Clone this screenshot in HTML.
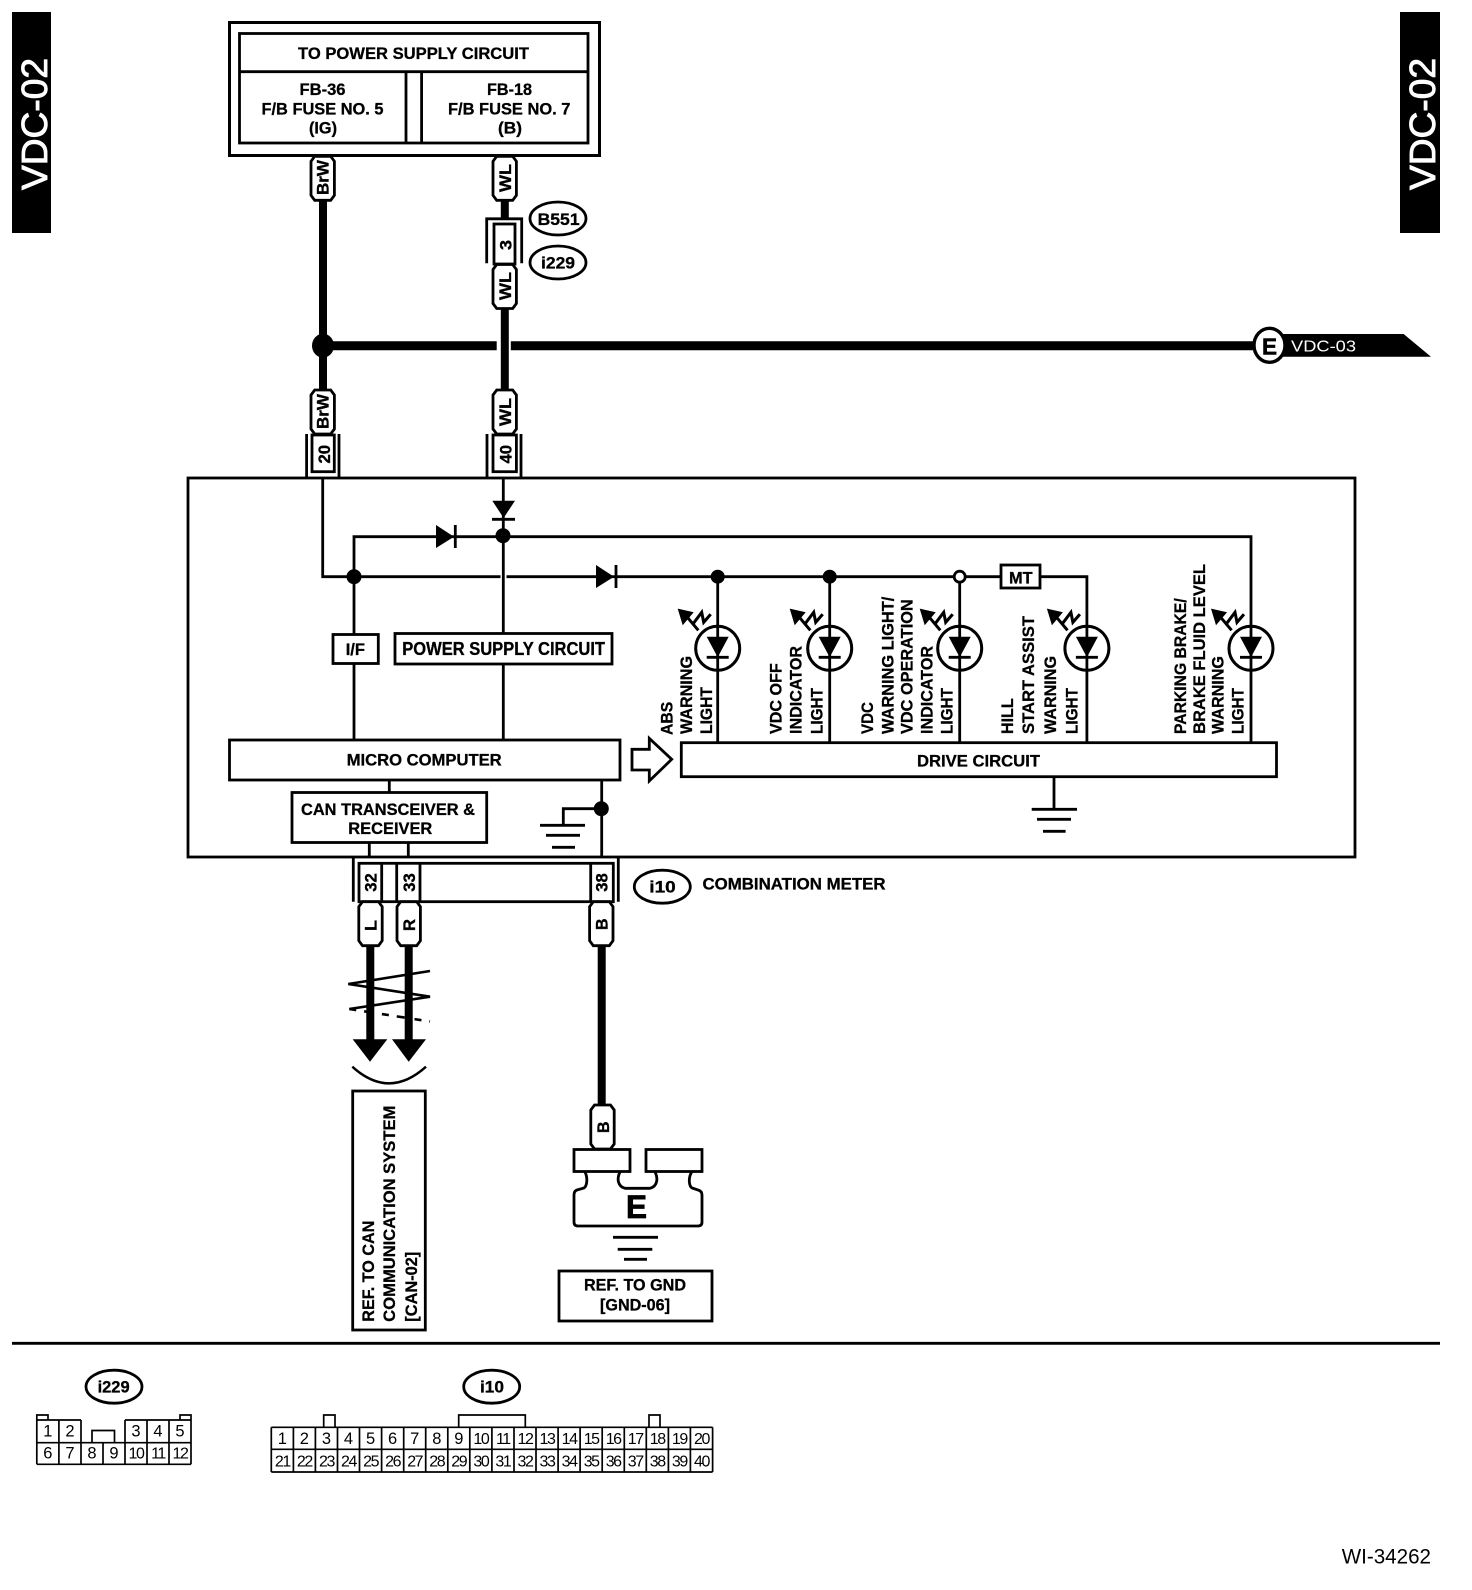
<!DOCTYPE html>
<html><head><meta charset="utf-8"><title>VDC-02 wiring diagram</title>
<style>
html,body{margin:0;padding:0;background:#fff}
svg{display:block}
text{font-family:"Liberation Sans",sans-serif;fill:#000}
.b{font-weight:bold;font-size:17px;stroke:#000;stroke-width:.3}
.w{fill:#fff;stroke:#fff;stroke-width:.9}
.n{font-size:16.5px;text-anchor:middle}
.d{font-size:16px;text-anchor:middle;letter-spacing:-1.4px}
.s{fill:none;stroke:#000;stroke-width:2.8}
.f{fill:#fff;stroke:#000;stroke-width:2.8}
.t{stroke:#000;stroke-width:8;fill:none}
.c{font-size:16.5px;font-weight:bold;stroke:#000;stroke-width:.35}
.g{stroke:#000;stroke-width:1.7;fill:none}
</style></head><body>
<svg width="1472" height="1590" viewBox="0 0 1472 1590" xmlns="http://www.w3.org/2000/svg">
<defs>
<path id="tag" d="M-8,-22H8L11.7,-17V17L8,22H-8L-11.7,17V-17Z" fill="#fff" stroke="#000" stroke-width="2.8"/>
<g id="led">
<circle cx="0" cy="0" r="22" fill="#fff" stroke="#000" stroke-width="3"/>
<path d="M0,-22V22" stroke="#000" stroke-width="2.8"/>
<path d="M-11,-11.5H11L0,9Z" fill="#000"/>
<path d="M-11,9H11" stroke="#000" stroke-width="2.8"/>
<path d="M-40,-39.7L-24,-36L-35,-23Z" fill="#000"/>
<path d="M-32,-33L-19.4,-18M-25,-24L-16,-36L-14,-26L-7,-34" fill="none" stroke="#000" stroke-width="3"/>
</g>
</defs>

<!-- side bars -->
<rect x="12" y="12" width="39" height="221" fill="#000"/>
<rect x="1400" y="12" width="40" height="221" fill="#000"/>
<text transform="rotate(-90 47 190)" x="47" y="190" class="w" font-size="36" textLength="132" lengthAdjust="spacingAndGlyphs">VDC-02</text>
<text transform="rotate(-90 1435 190)" x="1435" y="190" class="w" font-size="36" textLength="132" lengthAdjust="spacingAndGlyphs">VDC-02</text>

<!-- top box -->
<rect x="229.5" y="22.5" width="370" height="133" fill="#fff" stroke="#000" stroke-width="3"/>
<rect x="239.5" y="33.5" width="348.5" height="109.5" class="s" stroke-width="3"/>
<path d="M239.5,71.7H588M406,71.7V143M421.6,71.7V143" class="s"/>
<text x="298" y="59" class="b" textLength="231" lengthAdjust="spacingAndGlyphs">TO POWER SUPPLY CIRCUIT</text>
<text x="299.5" y="95" class="b" textLength="46" lengthAdjust="spacingAndGlyphs">FB-36</text>
<text x="261.5" y="114.3" class="b" textLength="122" lengthAdjust="spacingAndGlyphs">F/B FUSE NO. 5</text>
<text x="309" y="133.3" class="b" textLength="28" lengthAdjust="spacingAndGlyphs">(IG)</text>
<text x="487" y="95" class="b" textLength="45" lengthAdjust="spacingAndGlyphs">FB-18</text>
<text x="448" y="114.3" class="b" textLength="122.4" lengthAdjust="spacingAndGlyphs">F/B FUSE NO. 7</text>
<text x="498" y="133.3" class="b" textLength="24" lengthAdjust="spacingAndGlyphs">(B)</text>

<!-- thick wires -->
<path d="M323,200V390" class="t"/>
<path d="M504.8,200V219M504.8,308V390" class="t"/>
<path d="M323,345.7H496.7M510.8,345.7H1260" stroke="#000" stroke-width="9" fill="none"/>
<ellipse cx="323" cy="345.7" rx="11" ry="12" fill="#000"/>

<!-- E flag -->
<polygon points="1283,334 1403.6,334 1431,356.7 1276,356.7" fill="#000"/>
<ellipse cx="1269.5" cy="345.3" rx="15.5" ry="17" fill="#fff" stroke="#000" stroke-width="3.4"/>
<text x="1262" y="354.5" font-weight="bold" font-size="23" textLength="15" lengthAdjust="spacingAndGlyphs" style="stroke:#000;stroke-width:.6">E</text>
<text x="1291" y="351.7" font-size="16" textLength="65" lengthAdjust="spacingAndGlyphs" style="fill:#fff">VDC-03</text>

<!-- tags upper -->
<use href="#tag" x="322.7" y="178.3"/>
<text transform="rotate(-90 328.6 195)" x="328.6" y="195" class="c" textLength="35" lengthAdjust="spacingAndGlyphs">BrW</text>
<use href="#tag" x="504.7" y="178.3"/>
<text transform="rotate(-90 511 192)" x="511" y="192" class="c" textLength="28" lengthAdjust="spacingAndGlyphs">WL</text>

<!-- connector 3 -->
<path d="M486.7,263.3V218.8H521.7V263.3" class="s"/>
<rect x="494" y="224" width="21" height="40" class="f"/>
<text transform="rotate(-90 511.5 250)" x="511.5" y="250" class="c" textLength="10" lengthAdjust="spacingAndGlyphs">3</text>
<use href="#tag" x="504.7" y="286.5"/>
<text transform="rotate(-90 511 300)" x="511" y="300" class="c" textLength="28" lengthAdjust="spacingAndGlyphs">WL</text>

<ellipse cx="558" cy="218.5" rx="28" ry="16.5" class="f"/>
<text x="537.6" y="225" class="b" textLength="42" lengthAdjust="spacingAndGlyphs">B551</text>
<ellipse cx="558" cy="262.5" rx="28" ry="16.5" class="f"/>
<text x="541" y="268.5" class="b" textLength="34" lengthAdjust="spacingAndGlyphs">i229</text>

<!-- tags lower -->
<use href="#tag" x="322.7" y="412"/>
<text transform="rotate(-90 328.6 429)" x="328.6" y="429" class="c" textLength="35" lengthAdjust="spacingAndGlyphs">BrW</text>
<use href="#tag" x="504.7" y="412"/>
<text transform="rotate(-90 511 426)" x="511" y="426" class="c" textLength="28" lengthAdjust="spacingAndGlyphs">WL</text>

<!-- connectors 20 / 40 -->
<path d="M306.6,434V477.5M339,434V477.5M487,434V477.5M521,434V477.5" class="s"/>
<rect x="312" y="435" width="22.3" height="36.7" class="f"/>
<rect x="493" y="435" width="23.4" height="36.7" class="f"/>
<text transform="rotate(-90 330 463.5)" x="330" y="463.5" class="c" textLength="18.5" lengthAdjust="spacingAndGlyphs">20</text>
<text transform="rotate(-90 511.7 463.5)" x="511.7" y="463.5" class="c" textLength="18.5" lengthAdjust="spacingAndGlyphs">40</text>

<!-- main box -->
<rect x="188" y="478" width="1167" height="379" fill="none" stroke="#000" stroke-width="2.8"/>

<!-- internal wires -->
<path d="M322.7,478V576.7H500.5M506.5,576.7H959.7" class="s"/>
<path d="M959.7,576.7H1086.9V742.7" class="s"/>
<path d="M354,740V536.7H1251V742.7" class="s"/>
<path d="M503.3,478V740" class="s"/>
<!-- top diode -->
<polygon points="492.3,500.7 515,500.7 503.6,518" fill="#000"/>
<path d="M492,519.3H515" class="s"/>
<circle cx="503" cy="535.7" r="7.5" fill="#000"/>
<circle cx="354" cy="576.7" r="7.5" fill="#000"/>
<!-- horizontal diodes -->
<polygon points="436,525 454,536.7 436,548" fill="#000"/>
<path d="M455.3,525V548" class="s"/>
<polygon points="596,565 614,576.7 596,588" fill="#000"/>
<path d="M616,565V588" class="s"/>

<!-- I/F & PSU -->
<rect x="333" y="634.5" width="45.3" height="29" class="f"/>
<text x="345.7" y="655" class="b" textLength="19.3" lengthAdjust="spacingAndGlyphs">I/F</text>
<rect x="395" y="633.5" width="217" height="30.5" class="f"/>
<text x="402.3" y="655" class="b" style="font-size:18px" textLength="202.7" lengthAdjust="spacingAndGlyphs">POWER SUPPLY CIRCUIT</text>

<!-- micro computer -->
<rect x="229.5" y="740" width="390.5" height="40" class="f"/>
<text x="346.7" y="765.7" class="b" textLength="155" lengthAdjust="spacingAndGlyphs">MICRO COMPUTER</text>
<path d="M389.3,780V792M369.3,842.7V857M408.3,842.7V857M601.7,780V857" class="s"/>
<rect x="292" y="792.5" width="194.7" height="50" class="f"/>
<text x="301" y="815" class="b" textLength="174" lengthAdjust="spacingAndGlyphs">CAN TRANSCEIVER &amp;</text>
<text x="348.3" y="834" class="b" textLength="84" lengthAdjust="spacingAndGlyphs">RECEIVER</text>
<circle cx="601.3" cy="808.7" r="7.5" fill="#000"/>
<path d="M601,808.7H563.3V825.3M540,825.3H585M546,835.3H580M552,847.3H575" class="s"/>

<!-- big arrow -->
<polygon points="632,749.3 649.3,749.3 649.3,738.3 671.7,759.3 649.3,781 649.3,770 632,770" class="f"/>

<!-- drive circuit -->
<rect x="681.3" y="742.7" width="595.2" height="34" class="f"/>
<text x="917" y="766.7" class="b" textLength="123" lengthAdjust="spacingAndGlyphs">DRIVE CIRCUIT</text>
<path d="M1054,776.7V809.3M1031.7,809.3H1077M1037,819.3H1071M1043,831.3H1065.6" class="s"/>

<!-- light wires -->
<path d="M717.7,576.7V742.7M829.7,576.7V742.7M959.7,576.7V742.7" class="s"/>
<circle cx="717.7" cy="576.7" r="7" fill="#000"/>
<circle cx="829.7" cy="576.7" r="7" fill="#000"/>
<circle cx="959.7" cy="576.7" r="5.5" class="f"/>
<rect x="1001" y="565" width="39" height="23" class="f"/>
<text x="1009" y="583.3" class="b" textLength="23.6" lengthAdjust="spacingAndGlyphs">MT</text>
<use href="#led" x="717.7" y="648.3"/>
<use href="#led" x="829.7" y="648.3"/>
<use href="#led" x="959.7" y="648.3"/>
<use href="#led" x="1086.9" y="648.3"/>
<use href="#led" x="1251" y="648.3"/>

<!-- rotated labels -->
<text transform="rotate(-90 672.3 735)" x="672.3" y="735" class="b" textLength="33.3" lengthAdjust="spacingAndGlyphs">ABS</text>
<text transform="rotate(-90 692 734)" x="692" y="734" class="b" textLength="78" lengthAdjust="spacingAndGlyphs">WARNING</text>
<text transform="rotate(-90 712 734)" x="712" y="734" class="b" textLength="47" lengthAdjust="spacingAndGlyphs">LIGHT</text>
<text transform="rotate(-90 781.7 734)" x="781.7" y="734" class="b" textLength="70.7" lengthAdjust="spacingAndGlyphs">VDC OFF</text>
<text transform="rotate(-90 801.5 734)" x="801.5" y="734" class="b" textLength="88" lengthAdjust="spacingAndGlyphs">INDICATOR</text>
<text transform="rotate(-90 822.3 734)" x="822.3" y="734" class="b" textLength="46" lengthAdjust="spacingAndGlyphs">LIGHT</text>
<text transform="rotate(-90 873.2 734)" x="873.2" y="734" class="b" textLength="32" lengthAdjust="spacingAndGlyphs">VDC</text>
<text transform="rotate(-90 893.5 734)" x="893.5" y="734" class="b" textLength="137.3" lengthAdjust="spacingAndGlyphs">WARNING LIGHT/</text>
<text transform="rotate(-90 912.4 734)" x="912.4" y="734" class="b" textLength="134.7" lengthAdjust="spacingAndGlyphs">VDC OPERATION</text>
<text transform="rotate(-90 932.6 734)" x="932.6" y="734" class="b" textLength="88" lengthAdjust="spacingAndGlyphs">INDICATOR</text>
<text transform="rotate(-90 952.5 734)" x="952.5" y="734" class="b" textLength="46" lengthAdjust="spacingAndGlyphs">LIGHT</text>
<text transform="rotate(-90 1012.8 734)" x="1012.8" y="734" class="b" textLength="35.7" lengthAdjust="spacingAndGlyphs">HILL</text>
<text transform="rotate(-90 1034 734)" x="1034" y="734" class="b" textLength="118" lengthAdjust="spacingAndGlyphs">START ASSIST</text>
<text transform="rotate(-90 1056 734)" x="1056" y="734" class="b" textLength="78" lengthAdjust="spacingAndGlyphs">WARNING</text>
<text transform="rotate(-90 1077.5 734)" x="1077.5" y="734" class="b" textLength="46" lengthAdjust="spacingAndGlyphs">LIGHT</text>
<text transform="rotate(-90 1186 734)" x="1186" y="734" class="b" textLength="135.7" lengthAdjust="spacingAndGlyphs">PARKING BRAKE/</text>
<text transform="rotate(-90 1204.8 734)" x="1204.8" y="734" class="b" textLength="170" lengthAdjust="spacingAndGlyphs">BRAKE FLUID LEVEL</text>
<text transform="rotate(-90 1223.7 734)" x="1223.7" y="734" class="b" textLength="78" lengthAdjust="spacingAndGlyphs">WARNING</text>
<text transform="rotate(-90 1243.5 734)" x="1243.5" y="734" class="b" textLength="46" lengthAdjust="spacingAndGlyphs">LIGHT</text>

<!-- bottom connector -->
<path d="M353.3,857V901.7M618.3,857V901.7" class="s"/>
<rect x="359" y="863.3" width="254.3" height="38.4" class="f"/>
<path d="M381.7,863.3V901.7M396.7,863.3V901.7M420,863.3V901.7M590.7,863.3V901.7" class="s"/>
<text transform="rotate(-90 376.7 891.7)" x="376.7" y="891.7" class="c" textLength="18.5" lengthAdjust="spacingAndGlyphs">32</text>
<text transform="rotate(-90 415 891.7)" x="415" y="891.7" class="c" textLength="18.5" lengthAdjust="spacingAndGlyphs">33</text>
<text transform="rotate(-90 607.7 891.7)" x="607.7" y="891.7" class="c" textLength="18.5" lengthAdjust="spacingAndGlyphs">38</text>
<ellipse cx="662.3" cy="886.7" rx="28" ry="16.5" class="f"/>
<text x="649.3" y="892.7" class="b" textLength="26.4" lengthAdjust="spacingAndGlyphs">i10</text>
<text x="702.5" y="889.3" class="b" textLength="183" lengthAdjust="spacingAndGlyphs">COMBINATION METER</text>

<!-- CAN arrows -->
<path d="M370.3,945V1040M408.7,945V1040" class="t"/>
<polygon points="352.7,1039.3 387.3,1039.3 370,1061.7" fill="#000"/>
<polygon points="392,1039.3 426,1039.3 408.7,1061.7" fill="#000"/>
<use href="#tag" x="370.5" y="923.7"/>
<use href="#tag" x="408.7" y="923.7"/>
<text transform="rotate(-90 376.5 931)" x="376.5" y="931" class="c" textLength="11" lengthAdjust="spacingAndGlyphs">L</text>
<text transform="rotate(-90 415 931)" x="415" y="931" class="c" textLength="12" lengthAdjust="spacingAndGlyphs">R</text>
<path d="M430,971L348.3,984L430,996.7L349.3,1009" fill="none" stroke="#000" stroke-width="2.6"/>
<path d="M349.3,1009L430,1021.5" fill="none" stroke="#000" stroke-width="2.6" stroke-dasharray="7 8 8 10"/>
<path d="M352.3,1066.7Q389,1100 426,1066.7" fill="none" stroke="#000" stroke-width="2.4"/>
<rect x="352.7" y="1091" width="72.6" height="239" class="f"/>
<text transform="rotate(-90 374 1321.7)" x="374" y="1321.7" class="b" textLength="101" lengthAdjust="spacingAndGlyphs">REF. TO CAN</text>
<text transform="rotate(-90 395 1321.7)" x="395" y="1321.7" class="b" textLength="216" lengthAdjust="spacingAndGlyphs">COMMUNICATION SYSTEM</text>
<text transform="rotate(-90 417 1321.7)" x="417" y="1321.7" class="b" textLength="70" lengthAdjust="spacingAndGlyphs">[CAN-02]</text>

<!-- B wire -->
<path d="M601.7,945V1105" class="t"/>
<use href="#tag" x="601.3" y="923.7"/>
<text transform="rotate(-90 607.5 930)" x="607.5" y="930" class="c" textLength="11.5" lengthAdjust="spacingAndGlyphs">B</text>
<use href="#tag" x="602.5" y="1127"/>
<text transform="rotate(-90 609 1133)" x="609" y="1133" class="c" textLength="11.5" lengthAdjust="spacingAndGlyphs">B</text>

<!-- ground terminal -->
<rect x="574" y="1149.5" width="56" height="22" class="f"/>
<rect x="646" y="1149.5" width="56" height="22" class="f"/>
<path d="M585,1172C588,1178 587,1186 584,1188L577,1190Q574,1191 574,1195V1222Q574,1226 578,1226H698Q702,1226 702,1222V1195Q702,1191 698,1190L692,1188C689,1186 688,1178 691.7,1172" class="s"/>
<path d="M620,1172C617,1178 617,1186 625,1188.3H650C658,1186 658,1178 655,1172" class="s"/>
<text x="626" y="1218" font-weight="bold" font-size="32" textLength="21" lengthAdjust="spacingAndGlyphs" style="stroke:#000;stroke-width:.8">E</text>
<path d="M613,1237.3H658M617.7,1249.3H652.3M624,1259.3H647" class="s"/>
<rect x="559" y="1271" width="153" height="50" class="f"/>
<text x="584" y="1290.7" class="b" textLength="102" lengthAdjust="spacingAndGlyphs">REF. TO GND</text>
<text x="600" y="1310.7" class="b" textLength="70" lengthAdjust="spacingAndGlyphs">[GND-06]</text>

<!-- separator -->
<path d="M12,1343.3H1440" stroke="#000" stroke-width="2.8"/>

<!-- i229 connector -->
<ellipse cx="114" cy="1386.7" rx="28" ry="16.5" class="f"/>
<text x="97.6" y="1392.7" class="b" textLength="32" lengthAdjust="spacingAndGlyphs">i229</text>
<path d="M36.8,1442.7H191M36.8,1464.3H191M36.8,1420H81M125,1420H191M36.8,1420V1464.3M58.9,1420V1464.3M81,1420V1464.3M103,1442.7V1464.3M125,1420V1464.3M147,1420V1464.3M169,1420V1464.3M191,1420V1464.3" class="g"/>
<path d="M36.8,1420V1415H48V1420M180,1420V1415H191V1420M92,1442.7V1430.5H114.5V1442.7" class="g"/>
<g>
<text x="47.8" y="1436.7" class="n">1</text><text x="70" y="1436.7" class="n">2</text><text x="136" y="1436.7" class="n">3</text><text x="158" y="1436.7" class="n">4</text><text x="180" y="1436.7" class="n">5</text>
<text x="47.8" y="1458.3" class="n">6</text><text x="70" y="1458.3" class="n">7</text><text x="92" y="1458.3" class="n">8</text><text x="114" y="1458.3" class="n">9</text><text x="136" y="1458.3" class="d">10</text><text x="158" y="1458.3" class="d">11</text><text x="180" y="1458.3" class="d">12</text>
</g>

<!-- i10 connector -->
<ellipse cx="491.7" cy="1386.7" rx="28" ry="16.5" class="f"/>
<text x="480" y="1392.7" class="b" textLength="24" lengthAdjust="spacingAndGlyphs">i10</text>
<path d="M271.3,1427.3H712.6M271.3,1449.3H712.6M271.3,1472H712.6M271.3,1427.3V1472M293.4,1427.3V1472M315.4,1427.3V1472M337.5,1427.3V1472M359.5,1427.3V1472M381.6,1427.3V1472M403.7,1427.3V1472M425.7,1427.3V1472M447.8,1427.3V1472M469.8,1427.3V1472M491.9,1427.3V1472M514,1427.3V1472M536,1427.3V1472M558.1,1427.3V1472M580.1,1427.3V1472M602.2,1427.3V1472M624.3,1427.3V1472M646.3,1427.3V1472M668.4,1427.3V1472M690.4,1427.3V1472M712.6,1427.3V1472" class="g"/>
<path d="M323.7,1427V1415H335V1427M458.7,1427V1415H525.3V1427M649,1427V1415H660V1427" class="g"/>
<g>
<text x="282.4" y="1444" class="n">1</text><text x="304.4" y="1444" class="n">2</text><text x="326.5" y="1444" class="n">3</text><text x="348.5" y="1444" class="n">4</text><text x="370.6" y="1444" class="n">5</text><text x="392.6" y="1444" class="n">6</text><text x="414.7" y="1444" class="n">7</text><text x="436.8" y="1444" class="n">8</text><text x="458.8" y="1444" class="n">9</text>
<text x="480.9" y="1444" class="d">10</text><text x="502.9" y="1444" class="d">11</text><text x="525" y="1444" class="d">12</text><text x="547" y="1444" class="d">13</text><text x="569.1" y="1444" class="d">14</text><text x="591.2" y="1444" class="d">15</text><text x="613.2" y="1444" class="d">16</text><text x="635.3" y="1444" class="d">17</text><text x="657.3" y="1444" class="d">18</text><text x="679.4" y="1444" class="d">19</text><text x="701.5" y="1444" class="d">20</text>
<text x="282.4" y="1466.7" class="d">21</text><text x="304.4" y="1466.7" class="d">22</text><text x="326.5" y="1466.7" class="d">23</text><text x="348.5" y="1466.7" class="d">24</text><text x="370.6" y="1466.7" class="d">25</text><text x="392.6" y="1466.7" class="d">26</text><text x="414.7" y="1466.7" class="d">27</text><text x="436.8" y="1466.7" class="d">28</text><text x="458.8" y="1466.7" class="d">29</text><text x="480.9" y="1466.7" class="d">30</text><text x="502.9" y="1466.7" class="d">31</text><text x="525" y="1466.7" class="d">32</text><text x="547" y="1466.7" class="d">33</text><text x="569.1" y="1466.7" class="d">34</text><text x="591.2" y="1466.7" class="d">35</text><text x="613.2" y="1466.7" class="d">36</text><text x="635.3" y="1466.7" class="d">37</text><text x="657.3" y="1466.7" class="d">38</text><text x="679.4" y="1466.7" class="d">39</text><text x="701.5" y="1466.7" class="d">40</text>
</g>

<text x="1341.7" y="1563.3" font-size="21.5" textLength="89.3" lengthAdjust="spacingAndGlyphs">WI-34262</text>
</svg>
</body></html>
